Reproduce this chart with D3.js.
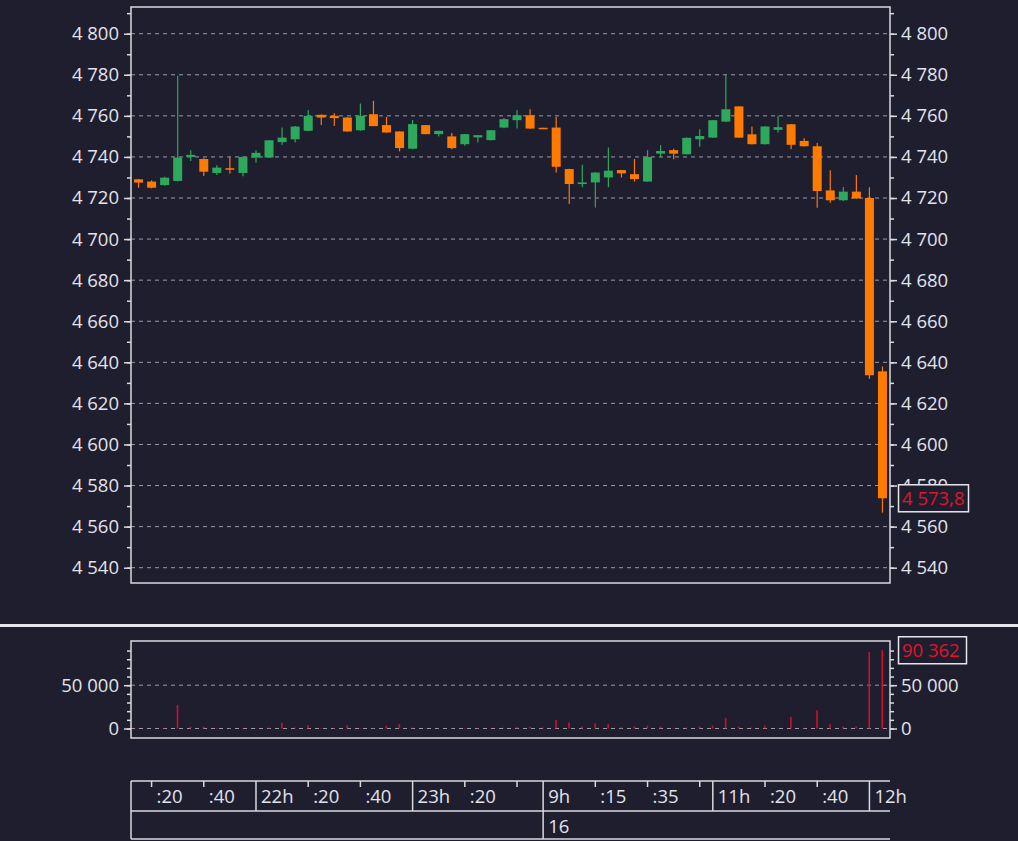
<!DOCTYPE html>
<html><head><meta charset="utf-8">
<script src="https://cdn.jsdelivr.net/npm/d3@7"></script>
<style>
html,body{margin:0;padding:0;background:#1e1e2f;}
svg{display:block;}
text{font-family:"Open Sans",sans-serif;}
</style></head><body>
<svg id="c" width="1018" height="841"></svg>
<script>
// ---- data (5-minute candles) ----
const opens  = [4729.1,4728.0,4726.3,4728.3,4740.0,4739.0,4732.2,4734.5,4732.2,4739.7,
                4739.7,4747.2,4748.6,4752.7,4760.5,4760.0,4759.2,4753.0,4760.8,4755.5,
                4752.4,4744.0,4755.5,4751.1,4750.0,4746.2,4749.5,4748.2,4754.3,4757.9,
                4760.3,4754.2,4754.3,4734.1,4726.8,4727.6,4730.0,4733.6,4731.6,4728.0,
                4741.6,4743.3,4741.3,4748.6,4749.4,4757.2,4764.6,4751.0,4746.2,4753.2,
                4755.9,4747.8,4745.2,4723.7,4718.9,4723.1,4720.0,4635.6];
const highs  = [4729.3,4728.6,4730.4,4779.5,4743.3,4739.3,4736.0,4740.0,4740.2,4743.3,
                4748.2,4754.3,4755.0,4762.8,4760.6,4761.3,4759.3,4766.0,4767.3,4759.5,
                4752.5,4758.0,4755.6,4752.8,4751.6,4751.2,4750.7,4753.1,4758.9,4762.8,
                4763.2,4754.2,4759.5,4734.2,4736.2,4732.5,4744.6,4733.7,4739.0,4743.3,
                4745.7,4744.0,4749.4,4753.5,4758.0,4780.0,4764.7,4754.8,4755.0,4760.0,
                4756.0,4749.1,4746.8,4733.5,4725.4,4731.2,4725.2,4638.0];
const lows   = [4725.0,4724.7,4726.0,4728.0,4738.0,4730.7,4731.2,4731.9,4730.6,4737.2,
                4739.6,4745.9,4747.0,4752.5,4755.6,4755.0,4752.3,4752.7,4755.0,4751.8,
                4742.7,4743.8,4751.0,4750.0,4743.8,4745.4,4747.0,4748.0,4754.0,4753.8,
                4753.7,4753.8,4732.4,4717.1,4725.2,4715.4,4725.2,4730.0,4728.0,4727.9,
                4739.7,4738.9,4741.2,4744.9,4749.3,4757.0,4749.3,4746.1,4746.0,4751.9,
                4743.7,4745.1,4715.3,4717.7,4718.5,4719.6,4631.9,4566.8];
const closes = [4727.5,4725.0,4729.9,4739.7,4741.0,4732.8,4734.8,4733.8,4740.0,4742.0,
                4748.1,4749.4,4754.8,4760.0,4759.2,4758.9,4752.4,4760.0,4755.0,4751.9,
                4744.3,4756.0,4751.1,4752.7,4744.3,4751.1,4750.6,4753.0,4758.4,4760.3,
                4753.8,4754.0,4735.2,4726.8,4727.6,4732.4,4733.3,4732.0,4729.2,4740.0,
                4742.9,4741.6,4749.3,4750.2,4757.9,4763.2,4749.4,4746.2,4754.8,4754.5,
                4745.9,4745.2,4723.4,4718.9,4723.1,4719.8,4633.7,4573.8];
const volumes = [500,400,600,27000,2000,1900,600,500,700,500,
                 1000,6600,1000,3900,700,600,3900,600,800,3100,
                 5000,1000,500,400,600,500,400,600,1000,1500,
                 2000,1000,9700,7000,2300,6000,4900,1500,2300,3400,
                 2300,800,1100,2300,3400,12400,2300,1100,3400,800,
                 13500,800,21000,4900,2300,2300,88500,90362];
const priceTicks = [4540,4560,4580,4600,4620,4640,4660,4680,4700,4720,4740,4760,4780,4800];
const priceMinorTicks = d3.range(4540, 4811, 10);
const volumeTicks = [0, 50000];
const volumeMinorTicks = d3.range(0, 90001, 10000);
const timeTickIndex  = [1,5,9,13,17,21,25,29,31,35,39,43,44,48,52,56];
const timeTickLabels = [":20",":40","22h",":20",":40","23h",":20","","9h",":15",":35","","11h",":20",":40","12h"];
const dayTickIndex = [31];
const dayTickLabels = ["16"];
const lastPriceLabel = "4 573,8";
const lastVolumeLabel = "90 362";

// ---- setup ----
const BG = "#1e1e2f", FG = "#e2e2ec", FRAME = "#d9d9de", GRID = "#9a9aa6";
const UP = "#2ea85a", DOWN = "#ff7a00", VOL = "#d0102c", LABELRED = "#e0142c";
const FS = "18.5px";
const loc = d3.formatLocale({decimal: ",", thousands: " ", grouping: [3], currency: ["", ""]});
const fmt = loc.format(",d");

const svg = d3.select("#c");
svg.append("rect").attr("width", 1018).attr("height", 841).attr("fill", BG);

const L = 131, R = 890, T = 7, B = 583;
const VT = 641, VB = 738;
const idx = d3.range(opens.length);
const x = d3.scaleBand().domain(idx).range([132, 889]).paddingInner(0.31).paddingOuter(0.155);
const xc = i => x(i) + x.bandwidth() / 2;
const y = d3.scaleLinear().domain([4532.55, 4813.0]).range([B, T]);
const yv = d3.scaleLinear().domain([-10970, 101040]).range([VB, VT]);

function styleAxis(g) {
  g.select(".domain").remove();
  g.selectAll("line").attr("stroke", FRAME).attr("stroke-width", 1.5);
  g.selectAll("text").attr("fill", FG).style("font-size", FS).style("font-family", '"Open Sans",sans-serif');
}

// gridlines
svg.append("g").selectAll("line").data(priceTicks).join("line")
  .attr("x1", L).attr("x2", R).attr("y1", d => y(d)).attr("y2", d => y(d))
  .attr("stroke", GRID).attr("stroke-dasharray", "4,4").attr("stroke-width", 1);
svg.append("g").selectAll("line").data(volumeTicks).join("line")
  .attr("x1", L).attr("x2", R).attr("y1", d => yv(d)).attr("y2", d => yv(d))
  .attr("stroke", GRID).attr("stroke-dasharray", "4,4").attr("stroke-width", 1);

// price axes
const axL = svg.append("g").attr("transform", `translate(${L},0)`)
  .call(d3.axisLeft(y).tickValues(priceMinorTicks).tickSize(4).tickFormat(""));
styleAxis(axL);
const axL2 = svg.append("g").attr("transform", `translate(${L},0)`)
  .call(d3.axisLeft(y).tickValues(priceTicks).tickSize(7).tickPadding(5).tickFormat(fmt));
styleAxis(axL2);
const axR = svg.append("g").attr("transform", `translate(${R},0)`)
  .call(d3.axisRight(y).tickValues(priceMinorTicks).tickSize(4).tickFormat(""));
styleAxis(axR);
const axR2 = svg.append("g").attr("transform", `translate(${R},0)`)
  .call(d3.axisRight(y).tickValues(priceTicks).tickSize(7).tickPadding(4).tickFormat(fmt));
styleAxis(axR2);

// volume axes
const vL = svg.append("g").attr("transform", `translate(${L},0)`)
  .call(d3.axisLeft(yv).tickValues(volumeMinorTicks).tickSize(4).tickFormat(""));
styleAxis(vL);
const vL2 = svg.append("g").attr("transform", `translate(${L},0)`)
  .call(d3.axisLeft(yv).tickValues(volumeTicks).tickSize(7).tickPadding(5).tickFormat(fmt));
styleAxis(vL2);
const vR = svg.append("g").attr("transform", `translate(${R},0)`)
  .call(d3.axisRight(yv).tickValues(volumeMinorTicks).tickSize(4).tickFormat(""));
styleAxis(vR);
const vR2 = svg.append("g").attr("transform", `translate(${R},0)`)
  .call(d3.axisRight(yv).tickValues(volumeTicks).tickSize(7).tickPadding(4).tickFormat(fmt));
styleAxis(vR2);

// candles
const candles = svg.append("g");
idx.forEach(i => {
  const up = closes[i] >= opens[i];
  const col = up ? UP : DOWN;
  candles.append("line")
    .attr("x1", xc(i)).attr("x2", xc(i))
    .attr("y1", y(highs[i])).attr("y2", y(lows[i]))
    .attr("stroke", col).attr("stroke-width", 1.2);
  const top = y(Math.max(opens[i], closes[i]));
  const bot = y(Math.min(opens[i], closes[i]));
  candles.append("rect")
    .attr("x", x(i)).attr("width", x.bandwidth())
    .attr("y", top).attr("height", Math.max(1.5, bot - top))
    .attr("fill", col);
});

// volume bars
svg.append("g").selectAll("rect").data(idx).join("rect")
  .attr("x", i => xc(i) - 1).attr("width", 1.6)
  .attr("y", i => yv(volumes[i])).attr("height", i => yv(0) - yv(volumes[i]))
  .attr("fill", VOL);

// frames
svg.append("rect").attr("x", L).attr("y", T).attr("width", R - L).attr("height", B - T)
  .attr("fill", "none").attr("stroke", FRAME).attr("stroke-width", 1.5);
svg.append("rect").attr("x", L).attr("y", VT).attr("width", R - L).attr("height", VB - VT)
  .attr("fill", "none").attr("stroke", FRAME).attr("stroke-width", 1.5);

// separator
svg.append("line").attr("x1", 0).attr("x2", 1018).attr("y1", 625.5).attr("y2", 625.5)
  .attr("stroke", "#e6e6ea").attr("stroke-width", 3);

// value boxes
function valueBox(yy, label, w) {
  const g = svg.append("g");
  g.append("rect").attr("x", 898.5).attr("y", yy - 13.5).attr("width", w).attr("height", 27)
    .attr("fill", BG).attr("stroke", "#e6e6ea").attr("stroke-width", 1.5);
  g.append("text").attr("x", 902).attr("y", yy).attr("dy", "0.35em")
    .attr("fill", LABELRED).style("font-size", FS).text(label);
}
valueBox(y(closes[closes.length - 1]), lastPriceLabel, 70);
valueBox(yv(volumes[volumes.length - 1]), lastVolumeLabel, 68);

// time axis
const TA = 781, TM = 811, TB = 839;
const tg = svg.append("g");
[TA, TM, TB].forEach(yy => tg.append("line").attr("x1", L).attr("x2", R)
  .attr("y1", yy).attr("y2", yy).attr("stroke", FRAME).attr("stroke-width", 1.5));
tg.append("line").attr("x1", L).attr("x2", L).attr("y1", TA).attr("y2", TB)
  .attr("stroke", FRAME).attr("stroke-width", 1.5);
timeTickIndex.forEach((ti, k) => {
  const lab = timeTickLabels[k];
  const xx = xc(ti);
  const isHour = lab.endsWith("h");
  const isDay = dayTickIndex.includes(ti);
  tg.append("line").attr("x1", xx).attr("x2", xx).attr("y1", TA)
    .attr("y2", isDay ? TB : (isHour ? TM : TA + 6))
    .attr("stroke", FRAME).attr("stroke-width", 1.5);
  if (lab) tg.append("text").attr("x", xx + 5).attr("y", 803)
    .attr("fill", FG).style("font-size", FS).text(lab);
});
dayTickIndex.forEach((ti, k) => {
  tg.append("text").attr("x", xc(ti) + 5).attr("y", 833)
    .attr("fill", FG).style("font-size", FS).text(dayTickLabels[k]);
});
</script>
</body></html>
